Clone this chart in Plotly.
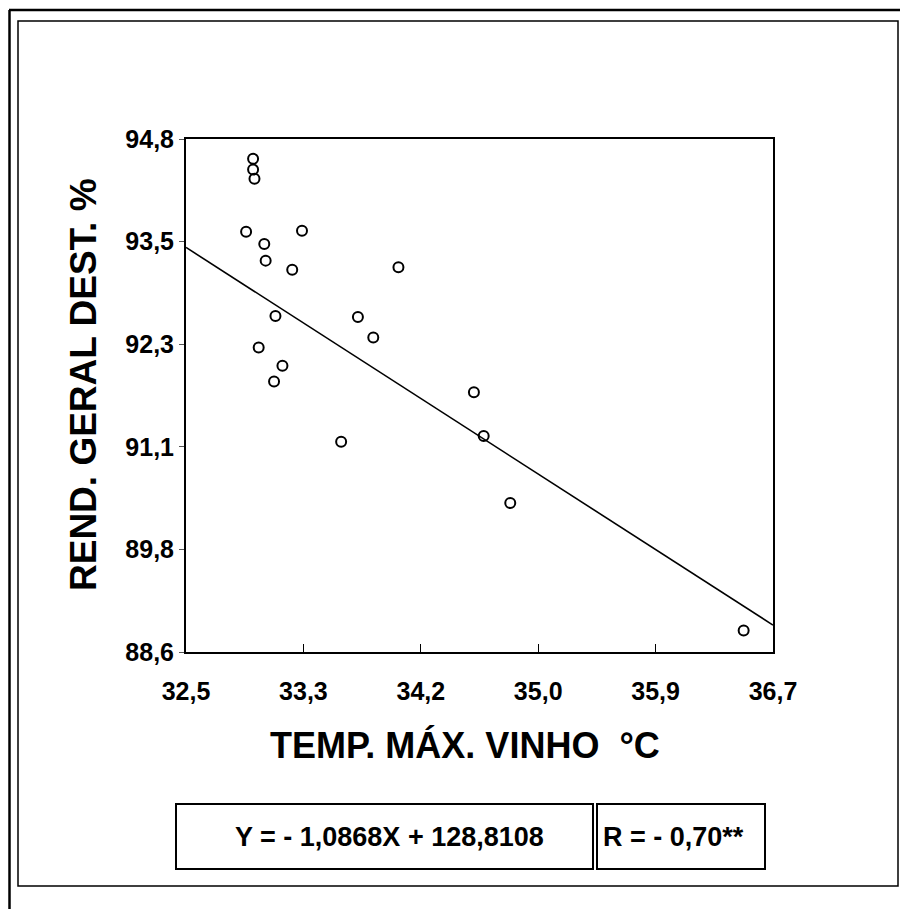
import plotly.graph_objects as go

# Data
temp_max = [32.98, 32.98, 32.99, 32.93, 33.06, 33.07, 33.26, 33.33, 33.14, 33.02,
            33.19, 33.13, 33.61, 33.73, 33.84, 34.02, 34.56, 34.63, 34.82, 36.49]
rendimento = [94.56, 94.43, 94.32, 93.68, 93.53, 93.33, 93.22, 93.69, 92.66, 92.28,
              92.06, 91.87, 91.14, 92.65, 92.40, 93.25, 91.74, 91.21, 90.40, 88.86]

slope = -1.0868
intercept = 128.8108
x_range = [32.5, 36.7]
y_range = [88.6, 94.8]

x_tickvals = [32.5, 33.34, 34.18, 35.02, 35.86, 36.7]
x_ticktext = ["32,5", "33,3", "34,2", "35,0", "35,9", "36,7"]
y_tickvals = [88.6, 89.84, 91.08, 92.32, 93.56, 94.8]
y_ticktext = ["88,6", "89,8", "91,1", "92,3", "93,5", "94,8"]

OFF = 8  # page body margin
W, H = 908 - OFF, 909 - OFF
# plot area in screen pixels
SL, SR, ST, SB = 186, 773, 139, 652
L, R, T, B = SL - OFF, SR - OFF, ST - OFF, SB - OFF

def px(x):
    return (x - SL) / (SR - SL)

def py(y):
    return (SB - y) / (SB - ST)

FONT = "Liberation Sans, Arial, sans-serif"

fig = go.Figure()
line_x = x_range
line_y = [slope * v + intercept for v in line_x]
fig.add_trace(go.Scatter(x=line_x, y=line_y, mode="lines",
                         line=dict(color="black", width=1.6), hoverinfo="skip"))
fig.add_trace(go.Scatter(x=temp_max, y=rendimento, mode="markers",
                         marker=dict(symbol="circle-open", size=10, color="black",
                                     line=dict(width=2, color="black"))))

shapes = [
    dict(type="line", xref="paper", yref="paper", x0=px(9), x1=px(920), y0=py(10), y1=py(10),
         line=dict(color="black", width=2.5)),
    dict(type="line", xref="paper", yref="paper", x0=px(9.5), x1=px(9.5), y0=py(10), y1=py(920),
         line=dict(color="black", width=2.5)),
    dict(type="rect", xref="paper", yref="paper", x0=px(18), x1=px(898), y0=py(21), y1=py(886),
         line=dict(color="black", width=1.5)),
    dict(type="rect", xref="paper", yref="paper", x0=px(176), x1=px(593), y0=py(804), y1=py(869),
         line=dict(color="black", width=2)),
    dict(type="rect", xref="paper", yref="paper", x0=px(597), x1=px(765), y0=py(804), y1=py(869),
         line=dict(color="black", width=2)),
]

annotations = [
    dict(text="<b>Y = - 1,0868X + 128,8108</b>", xref="paper", yref="paper",
         x=px(389), y=py(837), showarrow=False, xanchor="center", yanchor="middle",
         font=dict(family=FONT, size=27, color="black")),
    dict(text="<b>R = - 0,70**</b>", xref="paper", yref="paper",
         x=px(601), y=py(837), showarrow=False, xanchor="left", yanchor="middle",
         font=dict(family=FONT, size=27, color="black")),
    dict(text="<b>TEMP. MÁX. VINHO  °C</b>", xref="paper", yref="paper",
         x=px(465), y=py(745), showarrow=False, xanchor="center", yanchor="middle",
         font=dict(family=FONT, size=36, color="black")),
    dict(text="<b>REND. GERAL DEST. %</b>", xref="paper", yref="paper",
         x=px(83), y=py(385), showarrow=False, xanchor="center", yanchor="middle",
         textangle=-90, font=dict(family=FONT, size=37, color="black")),
]

fig.update_layout(
    width=W, height=H,
    margin=dict(l=L, r=W - R, t=T, b=H - B),
    paper_bgcolor="white", plot_bgcolor="white",
    showlegend=False,
    shapes=shapes, annotations=annotations,
    xaxis=dict(range=x_range, tickvals=x_tickvals, ticktext=x_ticktext,
               showgrid=False, zeroline=False, showline=True, mirror=True,
               linecolor="black", linewidth=2, ticks="inside", ticklen=8,
               tickcolor="black", tickwidth=1, ticklabelstandoff=16,
               tickfont=dict(family=FONT, size=25, color="black", weight="bold")),
    yaxis=dict(range=y_range, tickvals=y_tickvals, ticktext=y_ticktext,
               showgrid=False, zeroline=False, showline=True, mirror=True,
               linecolor="black", linewidth=2, ticks="outside", ticklen=5,
               tickcolor="#555", tickwidth=1,
               tickfont=dict(family=FONT, size=25, color="black", weight="bold")),
)

fig.write_html("out.html")
